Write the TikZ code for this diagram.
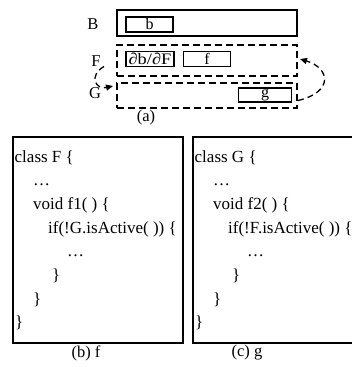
\documentclass[tikz,border=0pt]{standalone}
\usepackage{fontspec}
\setmainfont{Liberation Serif}
\usetikzlibrary{arrows.meta}
\begin{document}
\begin{tikzpicture}[x=1pt,y=-1pt,
  outerbox/.style={draw, line width=1.4pt, inner sep=0pt, outer sep=0pt},
  layerbox/.style={draw, line width=1.4pt, dash pattern=on 7pt off 4pt, inner sep=0pt, outer sep=0pt},
  itembox/.style={draw, line width=1.1pt, inner sep=0pt, outer sep=0pt, font=\fontsize{16}{16}\selectfont},
  codebox/.style={draw, line width=1.8pt, inner sep=0pt, outer sep=0pt},
  lbl/.style={inner sep=0pt, font=\fontsize{16.5}{16.5}\selectfont},
  code/.style={inner sep=0pt, anchor=base west, font=\fontsize{17}{17}\selectfont},
  loop/.style={line width=1.3pt, dash pattern=on 6pt off 4pt, -{Triangle[length=7pt,width=6pt]}}
]
\useasboundingbox (0,0) rectangle (352,367);
\clip (0,0) rectangle (352,367);

% layer diagram
\node[outerbox, minimum width=180pt, minimum height=26pt] (B) at (207,23) {};
\node[itembox, minimum width=47pt, minimum height=15pt] (bb) at (149.5,24.5) {b};
\node[layerbox, minimum width=180pt, minimum height=31pt] (F) at (207,60.5) {};
\node[itembox, minimum width=48pt, minimum height=15pt] (dbF) at (150,59)
  {\scalebox{1.15}[1]{∂b/∂F}};
\node[itembox, minimum width=47pt, minimum height=15pt] (ff) at (207,59) {f};
\node[layerbox, minimum width=180pt, minimum height=25pt] (G) at (207,95.5) {};
\node[itembox, minimum width=53pt, minimum height=14pt] (gg) at (265,95) {g};

\node[lbl] (Blab) at (93,24) {B};
\node[lbl] (Flab) at (96,61) {F};
\node[lbl] (Glab) at (95,93) {G};
\node[lbl] (capa) at (146,118) {(a)};

% mutual dependency loops
\coordinate (la) at ([shift={(-13,6)}]F.west);
\coordinate (lb) at ([shift={(-4,-9.5)}]G.west);
\draw[loop] (la) .. controls (88,76) and (96,90) .. (lb);
\coordinate (ra) at ([shift={(1,5)}]G.east);
\coordinate (rb) at ([shift={(3,-1.5)}]F.east);
\draw[loop] (ra) .. controls (334,92) and (330,68) .. (rb);

% code of class F
\node[codebox, minimum width=170pt, minimum height=206pt] (boxF) at (98,240) {};
\node[code] (F1) at (14.5,162) {class F \{};
\node[code] (F2) at (33,185.7) {…};
\node[code] (F3) at (33,209.4) {void f1( ) \{};
\node[code] (F4) at (48,233.1) {if(!G.isActive( )) \{};
\node[code] (F5) at (67,256.8) {…};
\node[code] (F6) at (52,280.5) {\}};
\node[code] (F7) at (33,304.2) {\}};
\node[code] (F8) at (15,327.9) {\}};
\node[lbl] (capb) at (86,353) {(b) f};

% code of class G
\node[codebox, minimum width=170pt, minimum height=206pt] (boxG) at (278,240) {};
\node[code] (G1) at (194.5,162) {class G \{};
\node[code] (G2) at (213,185.7) {…};
\node[code] (G3) at (213,209.4) {void f2( ) \{};
\node[code] (G4) at (228,233.1) {if(!F.isActive( )) \{};
\node[code] (G5) at (247,256.8) {…};
\node[code] (G6) at (232,280.5) {\}};
\node[code] (G7) at (213,304.2) {\}};
\node[code] (G8) at (195,327.9) {\}};
\node[lbl] (capc) at (247,353) {(c) g};
\end{tikzpicture}
\end{document}
